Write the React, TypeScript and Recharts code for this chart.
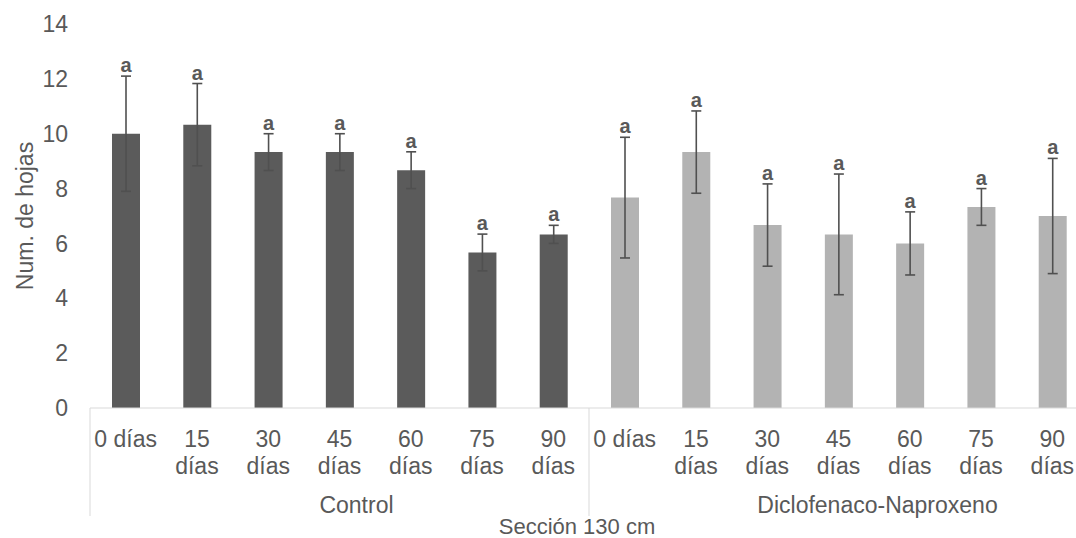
import React from 'react';
import { BarChart, Bar, XAxis, YAxis, ErrorBar, LabelList, Cell } from 'recharts';

// Days sampled per treatment
const dayTickLines: string[][] = [
  ['0 días'], ['15', 'días'], ['30', 'días'], ['45', 'días'], ['60', 'días'], ['75', 'días'], ['90', 'días'],
];
const groups = ['Control', 'Diclofenaco-Naproxeno'];

// Mean number of leaves and error per treatment
const controlMeans = [10, 10.33, 9.33, 9.33, 8.67, 5.67, 6.33];
const controlErr = [2.1, 1.5, 0.67, 0.67, 0.67, 0.67, 0.33];
const dnMeans = [7.67, 9.33, 6.67, 6.33, 6, 7.33, 7];
const dnErr = [2.2, 1.5, 1.5, 2.2, 1.15, 0.67, 2.1];
const controlLetters = ['a', 'a', 'a', 'a', 'a', 'a', 'a'];
const dnLetters = ['a', 'a', 'a', 'a', 'a', 'a', 'a'];

const yTicks = [0, 2, 4, 6, 8, 10, 12, 14];
const xTitle = 'Sección 130 cm';
const yTitle = 'Num. de hojas';

const groupColors = ['#5b5b5b', '#b3b3b3'];
const TEXT = '#595959';
const FONT = '"Liberation Sans", Arial, sans-serif';

const data = [
  ...controlMeans.map((v, i) => ({ key: `c${i}`, group: 0, day: i, value: v, err: controlErr[i], letter: controlLetters[i] })),
  ...dnMeans.map((v, i) => ({ key: `d${i}`, group: 1, day: i, value: v, err: dnErr[i], letter: dnLetters[i] })),
];

const CHART_W = 1100;
const CHART_H = 538;
const MARGIN = { top: 24, right: 12, bottom: 0, left: 0 };
const Y_W = 90;
const X_H = 130;
const BAND = (CHART_W - MARGIN.left - MARGIN.right - Y_W) / data.length;

const XTick = (props: any) => {
  const { x, y, payload } = props;
  const idx = payload.index as number;
  const row = data[idx];
  const lines = dayTickLines[row.day];
  const half = BAND / 2;
  return (
    <g>
      {lines.map((t, i) => (
        <text key={i} x={x} y={y + 39 + i * 27} textAnchor="middle" fill={TEXT} fontSize={23} fontFamily={FONT}>
          {t}
        </text>
      ))}
      {row.day === 0 && (
        <line x1={x - half} x2={x - half} y1={y} y2={y + 108} stroke="#d9d9d9" strokeWidth={1} />
      )}
      {idx === data.length - 1 && (
        <line x1={x + half} x2={x + half} y1={y} y2={y + 108} stroke="#d9d9d9" strokeWidth={1} />
      )}
      {row.day === 3 && (
        <text x={x + (row.group === 0 ? 17 : 39)} y={y + 105} textAnchor="middle" fill={TEXT} fontSize={23} fontFamily={FONT}>
          {groups[row.group]}
        </text>
      )}
      {row.group === 1 && row.day === 0 && (
        <text x={x - half - 12} y={y + 126} textAnchor="middle" fill={TEXT} fontSize={22} fontFamily={FONT}>
          {xTitle}
        </text>
      )}
    </g>
  );
};

const LetterLabel = (props: any) => {
  const { x, y, width, height, index } = props;
  const row = data[index];
  const top = y - (row.err * height) / row.value;
  return (
    <text x={x + width / 2} y={top - 4} textAnchor="middle" fill={TEXT} fontSize={20} fontWeight="bold" fontFamily={FONT}>
      {row.letter}
    </text>
  );
};

export default function App() {
  return (
    <div style={{ position: 'absolute', left: 0, top: 0, width: 1076, height: 538, overflow: 'hidden', background: '#fff' }}>
      <BarChart width={CHART_W} height={CHART_H} data={data} margin={MARGIN}>
        <XAxis
          dataKey="key"
          height={X_H}
          interval={0}
          tickLine={false}
          tickSize={0}
          tickMargin={0}
          axisLine={{ stroke: '#d9d9d9', strokeWidth: 1 }}
          tick={<XTick />}
        />
        <YAxis
          width={Y_W}
          domain={[0, 14]}
          ticks={yTicks}
          interval={0}
          axisLine={false}
          tickLine={false}
          tickSize={0}
          tickMargin={22}
          tick={{ fill: TEXT, fontSize: 23, fontFamily: FONT }}
          label={{
            value: yTitle,
            angle: -90,
            position: 'insideLeft',
            offset: 25,
            style: { textAnchor: 'middle', fill: TEXT, fontSize: 23, fontFamily: FONT },
          }}
        />
        <Bar dataKey="value" barSize={28} isAnimationActive={false}>
          {data.map((d) => (
            <Cell key={d.key} fill={groupColors[d.group]} />
          ))}
          <ErrorBar dataKey="err" width={5} stroke="#505050" strokeWidth={1.6} direction="y" />
          <LabelList dataKey="value" content={<LetterLabel />} />
        </Bar>
      </BarChart>
    </div>
  );
}
